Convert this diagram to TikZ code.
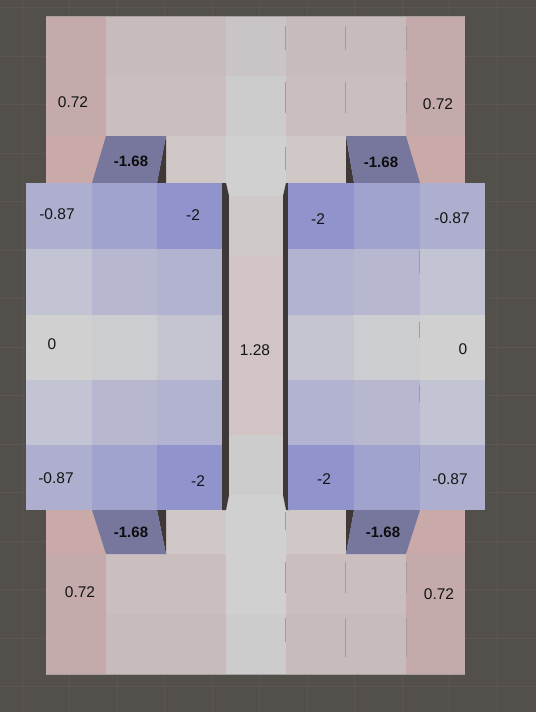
\documentclass[tikz,border=0pt]{standalone}
\usepackage{fontspec}
\setmainfont{Liberation Sans}
\definecolor{bgc}{HTML}{534F4B}
\definecolor{gridc}{HTML}{5B5651}
\definecolor{pinkA}{HTML}{C4AAAB}
\definecolor{pinkB}{HTML}{CAA9A9}
\definecolor{pgA}{HTML}{C7BBBC}
\definecolor{pgB}{HTML}{CABEBF}
\definecolor{pgC}{HTML}{D0C7C7}
\definecolor{cgA}{HTML}{C9C5C6}
\definecolor{cgB}{HTML}{CDCCCC}
\definecolor{cgC}{HTML}{D0D0D0}
\definecolor{cpk}{HTML}{D2C4C4}
\definecolor{cpl}{HTML}{D0C9C9}
\definecolor{bA1}{HTML}{AEAFCF}
\definecolor{bA2}{HTML}{A1A3CF}
\definecolor{bA3}{HTML}{9193CC}
\definecolor{bB1}{HTML}{C3C4D3}
\definecolor{bB2}{HTML}{B7B8D0}
\definecolor{bB3}{HTML}{B2B3D1}
\definecolor{bC1}{HTML}{D0D0D0}
\definecolor{bC2}{HTML}{CCCDD0}
\definecolor{bC3}{HTML}{C4C5D0}
\definecolor{trap}{HTML}{77779E}
\definecolor{shad}{HTML}{3E3937}
\definecolor{dashc}{HTML}{A39A9A}
\definecolor{edgec}{HTML}{A8A0A0}
\tikzset{
  lbl/.style={font=\fontsize{15.5}{18}\selectfont, text={black!92}, inner sep=0pt},
  blbl/.style={font=\fontsize{15}{18}\selectfont\bfseries, text={black!95}, inner sep=0pt},
  gridline/.style={gridc, line width=0.8pt},
  seam/.style={dashc, line width=0.6pt},
}
\begin{document}
\begin{tikzpicture}[x=1pt,y=-1pt]
\useasboundingbox (0,0) rectangle (536,712);
% background
\fill[bgc] (0,0) rectangle (536,712);
\foreach \k in {0,...,10} \draw[gridline] ({22+47.5*\k},0) -- ({22+47.5*\k},712);
\foreach \k in {0,...,14} \draw[gridline] (0,{7.5+48.5*\k}) -- (536,{7.5+48.5*\k});

% back plate
\fill[pgA] (46,16) rectangle (465,674);
% outer pink columns
\fill[pinkA] (46,16) rectangle (106,136);
\fill[pinkB] (46,136) rectangle (106,183);
\fill[pinkA] (406,16) rectangle (465,136);
\fill[pinkB] (406,136) rectangle (465,183);
\fill[pinkB] (46,510) rectangle (106,554);
\fill[pinkA] (46,554) rectangle (106,674);
\fill[pinkB] (406,510) rectangle (465,554);
\fill[pinkA] (406,554) rectangle (465,674);
% inner columns
\fill[pgA] (106,16) rectangle (166,76);
\fill[pgB] (106,76) rectangle (166,136);
\fill[pgA] (166,16) rectangle (226,76);
\fill[pgB] (166,76) rectangle (226,136);
\fill[pgC] (166,136) rectangle (226,183);
\fill[pgA] (286,16) rectangle (346,76);
\fill[pgB] (286,76) rectangle (346,136);
\fill[pgC] (286,136) rectangle (346,183);
\fill[pgA] (346,16) rectangle (406,76);
\fill[pgB] (346,76) rectangle (406,136);
\fill[pgC] (166,510) rectangle (226,554);
\fill[pgC] (286,510) rectangle (346,554);
\fill[pgB] (106,554) rectangle (226,614);
\fill[pgA] (106,614) rectangle (226,674);
\fill[pgB] (286,554) rectangle (406,614);
\fill[pgA] (286,614) rectangle (406,674);
% centre column
\fill[cgA] (226,16) rectangle (286,76);
\fill[cgB] (226,76) rectangle (286,136);
\fill[cgC] (226,136) rectangle (286,196);
\fill[cpl] (226,196) rectangle (286,256);
\fill[cpk] (226,256) rectangle (286,435);
\fill[cgB] (226,435) rectangle (286,495);
\fill[cgC] (226,495) rectangle (286,614);
\fill[cgB] (226,614) rectangle (286,674);
% plate edges
\draw[edgec, line width=0.8pt] (46,16) -- (465,16);
\draw[edgec, line width=0.8pt] (46,674) -- (465,674);
% seams
\foreach \x in {285,345,406} {
  \draw[seam] (\x,26) -- (\x,50);
  \draw[seam] (\x,82) -- (\x,113);
}
\draw[seam] (285,147) -- (285,170);
\foreach \x in {345,406} {
  \draw[seam] (\x,562) -- (\x,593);
  \draw[seam] (\x,618) -- (\x,657);
}
\draw[seam] (285,512) -- (285,530);
\draw[seam] (285,562) -- (285,593);
\draw[seam] (285,618) -- (285,642);

% shadow strips along the centre column
\fill[shad] (222,183) -- (226,183) -- (229,196) -- (229,495) -- (226,510) -- (222,510) -- cycle;
\fill[shad] (290,183) -- (286,183) -- (283,196) -- (283,495) -- (286,510) -- (290,510) -- cycle;
\fill[cpl] (229,196) rectangle (283,256);
\fill[cpk] (229,256) rectangle (283,435);
\fill[cgB] (229,435) rectangle (283,495);

% trapezoids
\fill[shad] (166,136) -- (166,183) -- (157,183) -- cycle;
\fill[trap] (106,136) -- (166,136) -- (157,183) -- (92,183) -- cycle;
\fill[shad] (346,136) -- (354,183) -- (346,183) -- cycle;
\fill[trap] (346,136) -- (406,136) -- (420,183) -- (354,183) -- cycle;
\fill[shad] (157,510) -- (166,510) -- (166,554) -- cycle;
\fill[trap] (92,510) -- (157,510) -- (166,554) -- (106,554) -- cycle;
\fill[shad] (346,510) -- (354,510) -- (346,554) -- cycle;
\fill[trap] (354,510) -- (420,510) -- (406,554) -- (346,554) -- cycle;

% left block
\fill[bA1] (26,183) rectangle (91.5,249);
\fill[bA2] (91.5,183) rectangle (157,249);
\fill[bA3] (157,183) rectangle (222,249);
\fill[bB1] (26,249) rectangle (91.5,314.5);
\fill[bB2] (91.5,249) rectangle (157,314.5);
\fill[bB3] (157,249) rectangle (222,314.5);
\fill[bC1] (26,314.5) rectangle (91.5,380);
\fill[bC2] (91.5,314.5) rectangle (157,380);
\fill[bC3] (157,314.5) rectangle (222,380);
\fill[bB1] (26,380) rectangle (91.5,445);
\fill[bB2] (91.5,380) rectangle (157,445);
\fill[bB3] (157,380) rectangle (222,445);
\fill[bA1] (26,445) rectangle (91.5,510);
\fill[bA2] (91.5,445) rectangle (157,510);
\fill[bA3] (157,445) rectangle (222,510);
% right block
\fill[bA3] (288,183) rectangle (354,249);
\fill[bA2] (354,183) rectangle (419.5,249);
\fill[bA1] (419.5,183) rectangle (485,249);
\fill[bB3] (288,249) rectangle (354,314.5);
\fill[bB2] (354,249) rectangle (419.5,314.5);
\fill[bB1] (419.5,249) rectangle (485,314.5);
\fill[bC3] (288,314.5) rectangle (354,380);
\fill[bC2] (354,314.5) rectangle (419.5,380);
\fill[bC1] (419.5,314.5) rectangle (485,380);
\fill[bB3] (288,380) rectangle (354,445);
\fill[bB2] (354,380) rectangle (419.5,445);
\fill[bB1] (419.5,380) rectangle (485,445);
\fill[bA3] (288,445) rectangle (354,510);
\fill[bA2] (354,445) rectangle (419.5,510);
\fill[bA1] (419.5,445) rectangle (485,510);
\foreach \y/\h in {250/273,322/338,385/402,450/470} \draw[seam] (419.5,\y) -- (419.5,\h);

% labels
\node[lbl] (tl072) at (73,102) {0.72};
\node[lbl] (tr072) at (438,104) {0.72};
\node[lbl] (bl072) at (80,592) {0.72};
\node[lbl] (br072) at (439,594) {0.72};
\node[blbl] (tl168) at (131,161) {-1.68};
\node[blbl] (tr168) at (381,162) {-1.68};
\node[blbl] (bl168) at (131,532) {-1.68};
\node[blbl] (br168) at (383,532) {-1.68};
\node[lbl] (tl087) at (57,214) {-0.87};
\node[lbl] (tr087) at (452,218) {-0.87};
\node[lbl] (bl087) at (56,478) {-0.87};
\node[lbl] (br087) at (450,479) {-0.87};
\node[lbl] (tl2) at (193,215) {-2};
\node[lbl] (tr2) at (318,219) {-2};
\node[lbl] (bl2) at (198,481) {-2};
\node[lbl] (br2) at (324,479) {-2};
\node[lbl] (l0) at (52,344) {0};
\node[lbl] (r0) at (463,349) {0};
\node[lbl] (c128) at (255,350) {1.28};
\end{tikzpicture}
\end{document}
